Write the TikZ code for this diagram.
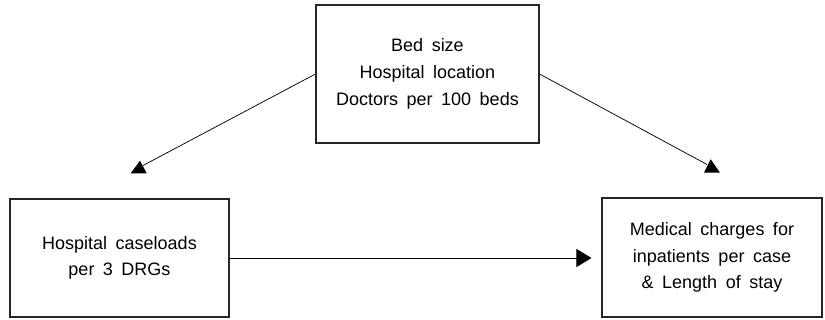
\documentclass[tikz,border=0pt]{standalone}
\usepackage{fontspec}
\setmainfont{Liberation Sans}[WordSpace=1.7]
\usetikzlibrary{arrows.meta}
\begin{document}
\begin{tikzpicture}[x=0.75pt,y=-0.75pt,
  box/.style={draw=black!85, line width=0.8pt, rectangle, align=center,
    font=\fontsize{13.5}{20}\selectfont, inner sep=0pt},
  conn/.style={draw=black, line width=0.55pt},
  headfill/.style={fill=black}]
\useasboundingbox (0,0) rectangle (825,320);
\node[box, minimum width=223*0.75pt, minimum height=138*0.75pt] (top) at (427.5,74)
  {Bed size\\Hospital location\\Doctors per 100 beds};
\node[box, minimum width=219*0.75pt, minimum height=118*0.75pt] (left) at (119.5,258)
  {Hospital caseloads\\per 3 DRGs};
\node[box, minimum width=220*0.75pt, minimum height=119*0.75pt] (right) at (712,257.5)
  {Medical charges for\\inpatients per case\\\& Length of stay};
\coordinate (endL) at (143,165.5);
\coordinate (endR) at (707,164.5);
\draw[conn] (top.west) -- (endL);
\draw[conn] (top.east) -- (endR);
\fill[headfill] (130.7,173.3) -- (146.7,173.3) -- (140,160.7) -- cycle;
\fill[headfill] (704,172.7) -- (720,172.7) -- (710.7,159.3) -- cycle;
\draw[conn, -{Triangle[length=11.25pt,width=13.5pt]}, shorten >=7.5pt]
  (left.east) -- (left.east -| right.west);
\end{tikzpicture}
\end{document}
